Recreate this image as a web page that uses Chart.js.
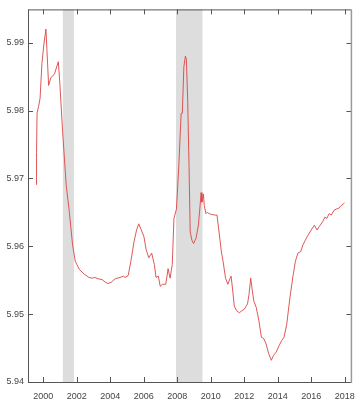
<!DOCTYPE html>
<html>
<head>
<meta charset="utf-8">
<script src="https://cdn.jsdelivr.net/npm/chart.js@4.4.1/dist/chart.umd.min.js"></script>
<style>
  html, body { margin: 0; padding: 0; background: #ffffff; }
  #wrap { width: 364px; height: 408px; }
</style>
</head>
<body>
<div id="wrap"><canvas id="c" width="364" height="408"></canvas></div>
<script>
// Series: decimal year and index level
const years = [
  1999.57, 1999.60, 1999.63, 1999.72, 1999.81, 1999.92, 2000.04, 2000.16, 2000.32, 2000.45,
  2000.67, 2000.90, 2000.99, 2001.15, 2001.37, 2001.56, 2001.75, 2001.91, 2002.15, 2002.44,
  2002.73, 2002.92, 2003.08, 2003.27, 2003.51, 2003.71, 2003.86, 2004.06, 2004.29, 2004.58,
  2004.78, 2004.88, 2005.07, 2005.23, 2005.42, 2005.57, 2005.70, 2005.85, 2006.01, 2006.14,
  2006.30, 2006.47, 2006.63, 2006.73, 2006.87, 2006.98, 2007.12, 2007.31, 2007.45, 2007.57,
  2007.70, 2007.80, 2007.95, 2008.09, 2008.23, 2008.30, 2008.39, 2008.48, 2008.54, 2008.62,
  2008.70, 2008.77, 2008.87, 2008.97, 2009.12, 2009.26, 2009.36, 2009.42, 2009.47, 2009.56,
  2009.61, 2009.71, 2009.79, 2009.91, 2010.04, 2010.23, 2010.37, 2010.49, 2010.63, 2010.73,
  2010.88, 2011.02, 2011.15, 2011.21, 2011.31, 2011.40, 2011.54, 2011.70, 2011.85, 2011.99,
  2012.19, 2012.28, 2012.38, 2012.48, 2012.57, 2012.71, 2012.87, 2013.02, 2013.16, 2013.30,
  2013.45, 2013.61, 2013.74, 2013.90, 2014.08, 2014.23, 2014.37, 2014.53, 2014.72, 2014.91,
  2015.05, 2015.20, 2015.36, 2015.50, 2015.64, 2015.79, 2015.99, 2016.18, 2016.34, 2016.47,
  2016.67, 2016.81, 2016.92, 2017.06, 2017.19, 2017.35, 2017.51, 2017.64, 2017.74, 2017.89,
  2017.98
];
const values = [
  5.9691, 5.9738, 5.9796, 5.9806, 5.9818, 5.9869, 5.9898, 5.9920, 5.9837, 5.9848,
  5.9854, 5.9872, 5.9840, 5.9771, 5.9690, 5.9650, 5.9602, 5.9578, 5.9566, 5.9559,
  5.9554, 5.9553, 5.9554, 5.9552, 5.9551, 5.9547, 5.9545, 5.9547, 5.9552, 5.9554,
  5.9556, 5.9554, 5.9557, 5.9578, 5.9607, 5.9624, 5.9633, 5.9624, 5.9614, 5.9595,
  5.9583, 5.9590, 5.9573, 5.9554, 5.9556, 5.9541, 5.9544, 5.9544, 5.9567, 5.9553,
  5.9573, 5.9641, 5.9655, 5.9718, 5.9796, 5.9796, 5.9864, 5.9880, 5.9876, 5.9815,
  5.9718, 5.9621, 5.9609, 5.9604, 5.9612, 5.9631, 5.9660, 5.9679, 5.9665, 5.9677,
  5.9660, 5.9648, 5.9650, 5.9648, 5.9647, 5.9646, 5.9646, 5.9621, 5.9592, 5.9578,
  5.9553, 5.9544, 5.9553, 5.9556, 5.9534, 5.9512, 5.9505, 5.9502, 5.9505, 5.9507,
  5.9515, 5.9529, 5.9553, 5.9534, 5.9519, 5.9510, 5.9490, 5.9466, 5.9464, 5.9456,
  5.9442, 5.9432, 5.9439, 5.9444, 5.9454, 5.9461, 5.9466, 5.9485, 5.9524, 5.9557,
  5.9578, 5.9590, 5.9592, 5.9602, 5.9609, 5.9616, 5.9624, 5.9631, 5.9624, 5.9629,
  5.9636, 5.9643, 5.9641, 5.9648, 5.9646, 5.9653, 5.9655, 5.9656, 5.9659, 5.9662,
  5.9664
];

// Recession periods (shaded)
const recessionStart = [2001.17, 2007.92];
const recessionEnd   = [2001.83, 2009.50];

// Axis ticks
const xTickValues = [2000, 2002, 2004, 2006, 2008, 2010, 2012, 2014, 2016, 2018];
const yTickValues = [5.94, 5.95, 5.96, 5.97, 5.98, 5.99];

const FONT = '"Liberation Sans Narrow", "Liberation Sans", Arial, sans-serif';

// Shaded bands behind the line
const bandsPlugin = {
  id: 'bands',
  beforeDatasetsDraw(chart) {
    const { ctx, chartArea: a, scales: { x } } = chart;
    ctx.save();
    ctx.fillStyle = '#dddddd';
    for (let i = 0; i < recessionStart.length; i++) {
      const x0 = x.getPixelForValue(recessionStart[i]);
      const x1 = x.getPixelForValue(recessionEnd[i]);
      ctx.fillRect(x0, a.top, x1 - x0, a.bottom - a.top);
    }
    ctx.restore();
  }
};

// Frame and inward tick marks on all four sides
const framePlugin = {
  id: 'frame',
  afterDraw(chart) {
    const { ctx, chartArea: a, scales: { x, y } } = chart;
    const len = 5;
    ctx.save();
    ctx.lineWidth = 1;
    ctx.strokeStyle = '#555555';
    ctx.beginPath();
    x.ticks.forEach(t => {
      const px = Math.round(x.getPixelForValue(t.value)) + 0.5;
      ctx.moveTo(px, a.bottom); ctx.lineTo(px, a.bottom - len);
      ctx.moveTo(px, a.top); ctx.lineTo(px, a.top + len);
    });
    y.ticks.forEach(t => {
      const py = Math.round(y.getPixelForValue(t.value)) + 0.5;
      ctx.moveTo(a.left, py); ctx.lineTo(a.left + len, py);
      ctx.moveTo(a.right, py); ctx.lineTo(a.right - len, py);
    });
    ctx.stroke();

    ctx.beginPath();
    ctx.moveTo(a.left + 0.5, a.top + 0.5);
    ctx.lineTo(a.right, a.top + 0.5);
    ctx.moveTo(a.left + 0.5, a.top);
    ctx.lineTo(a.left + 0.5, a.bottom + 0.5);
    ctx.lineTo(a.right, a.bottom + 0.5);
    ctx.stroke();

    ctx.strokeStyle = '#9a9a9a';
    ctx.lineWidth = 1.5;
    ctx.beginPath();
    ctx.moveTo(a.right, a.top);
    ctx.lineTo(a.right, a.bottom + 1);
    ctx.stroke();
    ctx.restore();
  }
};

const points = years.map((yr, i) => ({ x: yr, y: values[i] }));

new Chart(document.getElementById('c'), {
  type: 'line',
  data: {
    datasets: [{
      data: points,
      borderColor: 'rgba(220, 70, 70, 0.9)',
      borderWidth: 1,
      pointRadius: 0,
      tension: 0,
      fill: false
    }]
  },
  options: {
    responsive: false,
    animation: false,
    events: [],
    layout: { padding: { top: 5, right: 6, left: 0, bottom: 0 } },
    plugins: { legend: { display: false }, tooltip: { enabled: false } },
    scales: {
      x: {
        type: 'linear',
        min: 1999.09,
        max: 2018.39,
        afterBuildTicks(scale) { scale.ticks = xTickValues.map(v => ({ value: v })); },
        afterFit(scale) { scale.height = 26; },
        grid: { display: false, drawTicks: false },
        border: { display: false },
        ticks: {
          autoSkip: false,
          maxRotation: 0,
          padding: 9,
          color: '#444444',
          font: { family: FONT, size: 9 },
          callback: v => String(v)
        }
      },
      y: {
        type: 'linear',
        min: 5.94,
        max: 5.9949,
        afterBuildTicks(scale) { scale.ticks = yTickValues.map(v => ({ value: v })); },
        afterFit(scale) { scale.width = 28; },
        grid: { display: false, drawTicks: false },
        border: { display: false },
        ticks: {
          autoSkip: false,
          padding: 4,
          color: '#444444',
          font: { family: FONT, size: 9 },
          callback: v => Number(v).toFixed(2)
        }
      }
    }
  },
  plugins: [bandsPlugin, framePlugin]
});
</script>
</body>
</html>
